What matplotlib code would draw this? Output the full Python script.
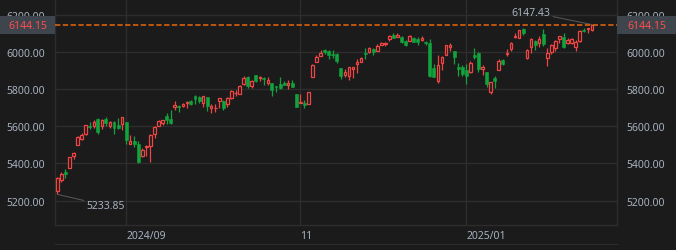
import matplotlib
matplotlib.use("Agg")
import matplotlib.pyplot as plt
import matplotlib.transforms as mtransforms
from matplotlib.patches import Rectangle

# daily OHLC, 2024-08-08 .. 2025-02-19
dates = ["2024-08-08", "2024-08-09", "2024-08-12", "2024-08-13", "2024-08-14", "2024-08-15", "2024-08-16",
         "2024-08-19", "2024-08-20", "2024-08-21", "2024-08-22", "2024-08-23", "2024-08-26", "2024-08-27",
         "2024-08-28", "2024-08-29", "2024-08-30",
         "2024-09-03", "2024-09-04", "2024-09-05", "2024-09-06", "2024-09-09", "2024-09-10", "2024-09-11",
         "2024-09-12", "2024-09-13", "2024-09-16", "2024-09-17", "2024-09-18", "2024-09-19", "2024-09-20",
         "2024-09-23", "2024-09-24", "2024-09-25", "2024-09-26", "2024-09-27", "2024-09-30",
         "2024-10-01", "2024-10-02", "2024-10-03", "2024-10-04", "2024-10-07", "2024-10-08", "2024-10-09",
         "2024-10-10", "2024-10-11", "2024-10-14", "2024-10-15", "2024-10-16", "2024-10-17", "2024-10-18",
         "2024-10-21", "2024-10-22", "2024-10-23", "2024-10-24", "2024-10-25", "2024-10-28", "2024-10-29",
         "2024-10-30", "2024-10-31",
         "2024-11-01", "2024-11-04", "2024-11-05", "2024-11-06", "2024-11-07", "2024-11-08", "2024-11-11",
         "2024-11-12", "2024-11-13", "2024-11-14", "2024-11-15", "2024-11-18", "2024-11-19", "2024-11-20",
         "2024-11-21", "2024-11-22", "2024-11-25", "2024-11-26", "2024-11-27", "2024-11-29",
         "2024-12-02", "2024-12-03", "2024-12-04", "2024-12-05", "2024-12-06", "2024-12-09", "2024-12-10",
         "2024-12-11", "2024-12-12", "2024-12-13", "2024-12-16", "2024-12-17", "2024-12-18", "2024-12-19",
         "2024-12-20", "2024-12-23", "2024-12-24", "2024-12-26", "2024-12-27", "2024-12-30", "2024-12-31",
         "2025-01-02", "2025-01-03", "2025-01-06", "2025-01-07", "2025-01-08", "2025-01-10", "2025-01-13",
         "2025-01-14", "2025-01-15", "2025-01-16", "2025-01-17", "2025-01-21", "2025-01-22", "2025-01-23",
         "2025-01-24", "2025-01-27", "2025-01-28", "2025-01-29", "2025-01-30", "2025-01-31",
         "2025-02-03", "2025-02-04", "2025-02-05", "2025-02-06", "2025-02-07", "2025-02-10", "2025-02-11",
         "2025-02-12", "2025-02-13", "2025-02-14", "2025-02-18", "2025-02-19"]

opens = [5252.57, 5312.70, 5351.88, 5376.98, 5442.43, 5501.26, 5530.50, 5557.23, 5602.88, 5603.09, 5637.77,
         5602.89, 5639.66, 5602.89, 5624.51, 5607.30, 5612.74,
         5623.89, 5506.68, 5520.08, 5507.33, 5442.07, 5490.51, 5496.42, 5557.48, 5603.34, 5615.21, 5655.51,
         5641.68, 5702.63, 5709.18, 5711.90, 5727.23, 5733.65, 5762.22, 5755.36, 5726.52,
         5757.73, 5698.19, 5698.19, 5737.80, 5737.80, 5719.14, 5751.80, 5778.36, 5775.09, 5829.81, 5866.74,
         5816.58, 5875.62, 5859.43, 5857.82, 5832.70, 5834.50, 5817.80, 5826.75, 5833.93, 5819.68, 5832.65,
         5775.34,
         5723.22, 5725.15, 5722.43, 5864.89, 5947.21, 5976.76, 6008.86, 6003.60, 5985.75, 5989.68, 5912.79,
         5874.17, 5869.00, 5910.00, 5933.00, 5944.36, 5992.28, 6000.03, 6014.11, 6003.98,
         6040.11, 6041.97, 6069.39, 6089.03, 6081.38, 6083.01, 6057.59, 6060.15, 6074.29, 6068.17, 6063.79,
         6052.55, 6047.65, 5912.71, 5842.00, 5940.25, 5984.63, 6024.97, 6006.17, 5920.67, 5919.74,
         5903.26, 5891.07, 5982.81, 5993.26, 5910.66, 5890.66, 5782.34, 5859.00, 5905.00, 5955.00, 5987.00,
         6014.12, 6081.39, 6076.32, 6121.43, 5969.04, 6026.97, 6057.70, 6050.75, 6096.79,
         5969.65, 5998.14, 6020.45, 6072.22, 6083.13, 6046.40, 6049.32, 6025.08, 6060.59, 6115.52, 6121.60,
         6117.76]

highs = [5328.03, 5356.66, 5371.20, 5436.50, 5463.22, 5546.23, 5561.98, 5608.30, 5620.51, 5632.68, 5643.22,
         5641.82, 5651.62, 5631.18, 5627.03, 5646.95, 5651.37,
         5623.89, 5552.99, 5546.30, 5522.47, 5484.20, 5497.91, 5560.41, 5600.71, 5636.27, 5636.05, 5670.81,
         5689.75, 5733.57, 5715.14, 5725.36, 5735.32, 5741.03, 5767.37, 5764.68, 5765.14,
         5757.73, 5720.28, 5718.78, 5753.24, 5739.34, 5757.60, 5796.80, 5795.03, 5822.13, 5871.41, 5870.36,
         5846.52, 5878.46, 5872.17, 5866.92, 5863.04, 5834.85, 5817.80, 5862.82, 5842.92, 5847.19, 5850.94,
         5775.34,
         5772.70, 5741.43, 5783.44, 5936.14, 5983.84, 6012.45, 6017.31, 6009.92, 6008.19, 5993.88, 5915.08,
         5908.12, 5920.00, 5920.67, 5963.00, 5972.90, 6020.75, 6025.42, 6020.16, 6044.17,
         6053.58, 6052.00, 6089.84, 6099.97, 6099.97, 6088.51, 6065.40, 6092.59, 6079.68, 6078.58, 6085.19,
         6057.68, 6070.67, 5935.52, 5982.06, 5978.25, 6040.10, 6049.75, 6006.17, 5940.79, 5929.74,
         5935.09, 5949.34, 6021.04, 6000.68, 5927.89, 5890.66, 5837.00, 5871.92, 5960.61, 5964.69, 6014.96,
         6051.51, 6100.81, 6118.73, 6128.18, 6017.17, 6074.54, 6062.83, 6086.64, 6120.91,
         6022.13, 6042.48, 6062.86, 6084.03, 6101.28, 6073.38, 6076.28, 6063.87, 6116.91, 6127.47, 6129.63,
         6147.43]

lows = [5233.85, 5298.33, 5324.37, 5376.98, 5421.45, 5501.26, 5525.17, 5550.74, 5585.50, 5591.57, 5560.95,
        5585.16, 5602.34, 5593.48, 5560.95, 5583.71, 5581.79,
        5504.33, 5503.66, 5486.85, 5402.62, 5434.49, 5441.72, 5406.96, 5535.50, 5601.65, 5604.53, 5614.05,
        5615.08, 5686.42, 5674.49, 5704.94, 5698.99, 5712.06, 5721.01, 5727.84, 5703.53,
        5681.28, 5674.00, 5677.36, 5699.86, 5686.85, 5703.27, 5745.02, 5764.76, 5775.09, 5824.83, 5804.48,
        5808.34, 5840.25, 5846.11, 5824.42, 5821.17, 5762.41, 5784.92, 5799.98, 5823.08, 5802.15, 5811.28,
        5703.70,
        5723.22, 5696.51, 5722.10, 5864.89, 5947.21, 5976.76, 5986.69, 5960.08, 5965.91, 5942.28, 5853.01,
        5865.95, 5850.00, 5860.95, 5885.00, 5944.36, 5963.91, 5992.27, 5984.87, 6003.98,
        6035.33, 6033.39, 6061.06, 6079.98, 6079.98, 6048.63, 6029.89, 6060.15, 6051.25, 6035.77, 6059.14,
        6035.19, 5867.79, 5866.07, 5832.30, 5902.57, 5981.44, 6007.37, 5932.95, 5869.16, 5868.86,
        5829.53, 5888.66, 5960.01, 5890.68, 5874.78, 5809.47, 5773.31, 5805.00, 5905.00, 5930.00, 5978.00,
        6006.88, 6076.13, 6074.67, 6088.74, 5962.92, 5994.63, 6012.96, 6027.46, 6030.93,
        5923.93, 5990.87, 6007.06, 6046.83, 6019.96, 6044.84, 6042.34, 6003.00, 6051.05, 6107.62, 6099.51,
        6111.15]

closes = [5319.31, 5344.16, 5344.39, 5434.43, 5455.21, 5543.22, 5554.25, 5608.25, 5597.12, 5620.85, 5570.64,
          5634.61, 5616.84, 5625.80, 5592.18, 5591.96, 5648.40,
          5528.93, 5520.07, 5503.41, 5408.42, 5471.05, 5495.52, 5554.13, 5595.76, 5626.02, 5633.09, 5634.58,
          5618.26, 5713.64, 5702.55, 5718.57, 5732.93, 5722.26, 5745.37, 5738.17, 5762.48,
          5708.75, 5709.54, 5699.94, 5751.07, 5695.94, 5751.13, 5792.04, 5780.05, 5815.03, 5859.85, 5815.26,
          5842.47, 5841.47, 5864.67, 5853.98, 5851.20, 5797.42, 5809.86, 5808.12, 5823.52, 5832.92, 5813.67,
          5705.45,
          5728.80, 5712.69, 5782.76, 5929.04, 5973.10, 5995.54, 6001.35, 5983.99, 5985.38, 5949.17, 5870.62,
          5893.62, 5916.98, 5917.11, 5948.71, 5969.34, 5987.37, 6021.63, 5998.74, 6032.38,
          6047.15, 6049.88, 6086.49, 6075.11, 6090.27, 6052.85, 6034.91, 6084.19, 6051.25, 6051.09, 6074.08,
          6050.61, 5872.16, 5867.08, 5930.85, 5974.07, 6040.04, 6037.59, 5970.84, 5906.94, 5881.63,
          5868.55, 5942.47, 5975.38, 5909.03, 5918.25, 5827.04, 5836.22, 5842.91, 5949.91, 5937.34, 5996.66,
          6049.24, 6086.37, 6118.71, 6101.24, 6012.28, 6067.70, 6039.31, 6071.17, 6040.53,
          5994.57, 6037.88, 6061.48, 6083.57, 6025.99, 6066.44, 6068.50, 6051.97, 6115.07, 6114.63, 6129.58,
          6144.15]

y_ticks = [5200, 5400, 5600, 5800, 6000, 6200]
month_labels = {"2024-09": "2024/09", "2024-11": "11", "2025-01": "2025/01"}

BG = "#1b1b1b"
GRID = "#2d2d2d"
TXT = "#a7b1bf"
UP = "#f04545"
DOWN = "#12a43c"
LAST = "#e8670f"

plt.rcParams["font.family"] = ["Noto Sans", "DejaVu Sans"]

fig = plt.figure(figsize=(6.76, 2.51), dpi=100, facecolor=BG)
ax = fig.add_axes([55 / 676, 25 / 251, 562 / 676, 226 / 251], facecolor=BG)

n = len(closes)
xs = list(range(n))

# wicks first, bodies on top (hollow up candles hide the wick inside)
for i in xs:
    up = closes[i] >= opens[i]
    col = UP if up else DOWN
    ax.vlines(i, lows[i], highs[i], color=col, linewidth=0.9, zorder=3)
    lo = min(opens[i], closes[i])
    h = max(abs(closes[i] - opens[i]), 1.5)
    if up:
        ax.bar(i, h, bottom=lo, width=0.62, facecolor=BG, edgecolor=col, linewidth=0.9, zorder=4)
    else:
        ax.bar(i, h, bottom=lo, width=0.72, facecolor=col, edgecolor=col, linewidth=0.4, zorder=4)

ax.set_xlim(-0.57, 138.2)
ax.set_ylim(5069, 6285)

# grid
ax.set_yticks(y_ticks)
ax.set_yticklabels([f"{v:.2f}" for v in y_ticks])
month_idx = []
month_txt = []
for i, d in enumerate(dates):
    key = d[:7]
    if key in month_labels and (i == 0 or dates[i - 1][:7] != key):
        month_idx.append(i)
        month_txt.append(month_labels[key])
ax.set_xticks(month_idx)
ax.set_xticklabels(month_txt)
for lab in ax.get_xticklabels():
    lab.set_ha("left")
ax.grid(True, color=GRID, linewidth=1)
ax.set_axisbelow(True)
ax.tick_params(axis="y", length=0, labelleft=True, labelright=True, colors=TXT, labelsize=7.5, pad=7)
ax.tick_params(axis="x", length=0, colors=TXT, labelsize=7.5, pad=3.5)
for s in ["left", "right", "bottom"]:
    ax.spines[s].set_color(GRID)
    ax.spines[s].set_linewidth(1)
ax.spines["top"].set_visible(False)

# last price line and side labels
last = closes[-1]
ax.axhline(last, color=LAST, linewidth=1.1, dashes=(3.5, 1.6), zorder=5)
tr = mtransforms.blended_transform_factory(fig.transFigure, ax.transData)
box_h = 18 / 37.07 * 200  # ~18 px tall
for x0, x1 in [(0, 55 / 676), (617 / 676, 1.0)]:
    fig.add_artist(Rectangle((x0, last - box_h / 2), x1 - x0, box_h, transform=tr,
                             facecolor="#3e454d", edgecolor="none", zorder=6))
    fig.text((x0 + x1) / 2, last, f"{last:.2f}", transform=tr, color="#ff4d4d",
             fontsize=7.5, ha="center", va="center", zorder=7)

# high / low markers
hi_i = max(xs, key=lambda k: highs[k])
lo_i = min(xs, key=lambda k: lows[k])
ax.annotate(f"{highs[hi_i]:.2f}", xy=(hi_i, highs[hi_i]), xytext=(-30, 9), textcoords="offset points",
            color=TXT, fontsize=7.5, ha="right", va="center",
            arrowprops=dict(arrowstyle="-", color="#5a5a5a", linewidth=0.7, shrinkA=0, shrinkB=0))
ax.annotate(f"{lows[lo_i]:.2f}", xy=(lo_i, lows[lo_i]), xytext=(21, -8), textcoords="offset points",
            color=TXT, fontsize=7.5, ha="left", va="center",
            arrowprops=dict(arrowstyle="-", color="#5a5a5a", linewidth=0.7, shrinkA=0, shrinkB=0))

# navigator strip at the bottom
nav = fig.add_axes([55 / 676, 0, 562 / 676, 6 / 251], facecolor=BG)
nav.set_xticks([])
nav.set_yticks([])
for s in ["left", "right", "bottom"]:
    nav.spines[s].set_visible(False)
nav.spines["top"].set_color(GRID)

fig.savefig("out.png", dpi=100, facecolor=BG)
